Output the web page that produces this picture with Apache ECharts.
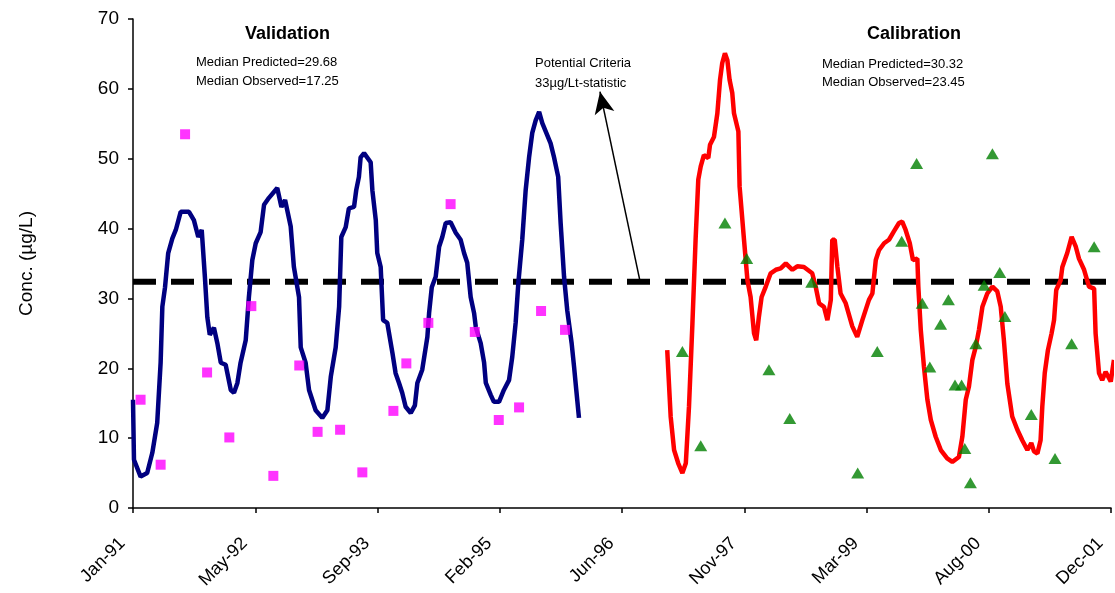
<!DOCTYPE html>
<html>
<head>
<meta charset="utf-8">
<script src="https://cdn.jsdelivr.net/npm/echarts@6/dist/echarts.min.js"></script>
<style>
html,body{margin:0;padding:0;background:#fff;}
#chart{width:1115px;height:593px;}
</style>
</head>
<body>
<div id="chart"></div>
<script>
// x values are days since 1991-01-01
const xTickDays = [0, 500, 1000, 1500, 2000, 2500, 3000, 3500, 4000];
const monthNames = ['Jan','Feb','Mar','Apr','May','Jun','Jul','Aug','Sep','Oct','Nov','Dec'];

const validationPredicted = [
  [0,15.5],[4,6.9],[31,4.5],[58,5.0],[79,7.9],[99,12.2],[113,20.8],[120,28.8],[131,31.6],[144,36.5],
  [161,38.6],[175,39.8],[195,42.4],[229,42.4],[249,41.2],[267,38.8],[281,39.8],[294,33.1],[304,27.3],
  [314,24.8],[331,25.8],[345,23.6],[359,20.8],[379,20.5],[400,16.9],[413,16.5],[427,17.9],[440,20.8],
  [461,24.0],[474,30.2],[488,35.5],[502,37.9],[522,39.5],[536,43.4],[556,44.4],[590,45.8],[607,43.1],
  [622,44.1],[645,40.3],[658,34.5],[679,30.2],[686,23.0],[706,20.8],[720,16.9],[747,14.0],[774,12.9],
  [795,14.0],[809,18.8],[829,23.0],[843,28.8],[852,38.8],[870,40.2],[883,42.9],[904,43.1],[913,45.5],
  [924,47.4],[931,50.2],[945,50.8],[972,49.5],[979,45.5],[993,41.2],[999,36.5],[1013,34.5],[1023,26.9],
  [1040,26.5],[1061,22.2],[1074,19.3],[1088,17.9],[1101,16.5],[1115,14.5],[1136,13.6],[1153,14.7],
  [1163,17.9],[1183,19.8],[1204,24.5],[1211,27.9],[1222,31.6],[1238,33.1],[1252,37.4],[1265,38.8],
  [1279,40.8],[1299,40.9],[1320,39.4],[1340,38.4],[1354,36.5],[1367,35.1],[1381,30.2],[1395,27.9],
  [1402,25.9],[1422,23.6],[1436,20.8],[1443,17.9],[1463,16.2],[1476,15.2],[1497,15.2],[1517,16.9],
  [1538,18.3],[1551,21.6],[1565,26.5],[1576,32.2],[1592,38.4],[1606,45.5],[1620,50.2],[1633,53.7],
  [1647,55.5],[1661,56.7],[1674,55.1],[1708,52.2],[1722,50.2],[1739,47.4],[1749,40.8],[1763,33.1],
  [1776,28.3],[1794,23.6],[1804,20.2],[1813,16.9],[1824,12.9]
];

const validationObserved = [
  [31,15.5],[113,6.2],[213,53.5],[303,19.4],[394,10.1],[484,28.9],[574,4.6],[680,20.4],[755,10.9],
  [847,11.2],[938,5.1],[1065,13.9],[1118,20.7],[1208,26.5],[1299,43.5],[1398,25.2],[1496,12.6],
  [1579,14.4],[1669,28.2],[1767,25.5]
];

const calibrationPredicted = [
  [2185,22.6],[2199,13.1],[2213,8.3],[2230,6.4],[2247,5.0],[2261,6.4],[2274,14.5],[2288,26.4],
  [2301,38.4],[2312,47.0],[2322,48.9],[2335,50.5],[2353,50.1],[2360,52.0],[2376,53.1],[2390,56.5],
  [2401,61.3],[2410,63.7],[2421,65.1],[2431,64.1],[2440,61.3],[2451,59.4],[2458,56.5],[2476,53.9],
  [2481,46.0],[2499,38.4],[2513,32.6],[2526,30.2],[2540,25.0],[2549,24.0],[2560,27.4],[2571,30.2],
  [2588,31.7],[2608,33.6],[2629,34.1],[2649,34.3],[2670,35.0],[2697,34.1],[2717,34.6],[2744,34.5],
  [2778,33.6],[2792,31.7],[2806,29.3],[2826,28.8],[2840,26.9],[2854,29.8],[2860,38.4],[2870,38.4],
  [2881,34.5],[2894,30.7],[2915,29.3],[2942,26.0],[2962,24.5],[2983,26.9],[3010,29.8],[3024,30.7],
  [3038,35.5],[3051,36.9],[3072,37.9],[3092,38.4],[3112,39.6],[3133,40.8],[3146,41.0],[3160,39.8],
  [3177,37.9],[3190,35.5],[3208,35.7],[3212,31.7],[3222,25.5],[3235,20.2],[3249,15.5],[3263,12.6],
  [3283,10.2],[3304,8.3],[3330,7.1],[3351,6.6],[3378,7.3],[3392,10.2],[3406,15.5],[3419,17.4],
  [3433,21.2],[3447,23.1],[3460,25.5],[3474,28.8],[3494,30.7],[3515,31.7],[3535,31.0],[3549,28.8],
  [3562,24.0],[3576,17.8],[3596,13.1],[3617,11.2],[3637,9.7],[3658,8.3],[3674,9.3],[3685,8.1],
  [3699,7.8],[3712,9.7],[3719,14.5],[3729,19.3],[3742,22.6],[3757,25.0],[3767,26.9],[3776,31.2],
  [3794,32.6],[3801,34.5],[3821,36.5],[3839,38.8],[3856,37.4],[3869,35.7],[3890,34.1],[3910,31.7],
  [3931,31.4],[3937,25.0],[3951,19.3],[3964,18.3],[3978,19.5],[3999,18.1],[4012,21.2]
];

const calibrationObserved = [
  [2247,22.4],[2322,8.9],[2421,40.8],[2510,35.7],[2601,19.8],[2686,12.8],[2776,32.3],[2964,5.0],
  [3044,22.4],[3144,38.2],[3205,49.3],[3228,29.3],[3259,20.2],[3303,26.3],[3335,29.8],[3362,17.6],
  [3389,17.6],[3402,8.5],[3425,3.6],[3447,23.5],[3481,31.9],[3515,50.7],[3545,33.7],[3566,27.4],
  [3674,13.4],[3771,7.1],[3839,23.5],[3931,37.4]
];

const criteriaLevel = 32.4;
const criteriaSpan = [0, 4000];
const arrowStart = [2074, 32.4];
const arrowEnd = [1910, 59.6];

function dayLabel(d) {
  if (d % 500 !== 0) return '';
  const dt = new Date(Date.UTC(1991, 0, 1) + d * 86400000);
  const yy = String(dt.getUTCFullYear() % 100).padStart(2, '0');
  return monthNames[dt.getUTCMonth()] + '-' + yy;
}

const chart = echarts.init(document.getElementById('chart'), null, {renderer: 'canvas'});
const FONT = 'Liberation Sans, Arial, sans-serif';

chart.setOption({
  animation: false,
  backgroundColor: '#ffffff',
  grid: {left: 133, right: 4, top: 19, bottom: 85, containLabel: false},
  xAxis: {
    type: 'value',
    min: xTickDays[0],
    max: xTickDays[xTickDays.length - 1],
    interval: 500,
    splitLine: {show: false},
    axisLine: {show: true, onZero: false, lineStyle: {color: '#000', width: 1.5}},
    axisTick: {show: true, length: 5, lineStyle: {color: '#000', width: 1.5}},
    axisLabel: {
      rotate: 45, margin: 22, color: '#000', fontSize: 18, fontFamily: FONT,
      padding: [0, 15, 0, 0],
      formatter: dayLabel
    }
  },
  yAxis: {
    type: 'value',
    min: 0, max: 70, interval: 10,
    name: 'Conc. (µg/L)',
    nameLocation: 'middle',
    nameRotate: 90,
    nameGap: 97,
    nameTextStyle: {color: '#000', fontSize: 19, fontFamily: FONT, padding: [0, 0, 0, 0]},
    splitLine: {show: false},
    axisLine: {show: true, lineStyle: {color: '#000', width: 1.5}},
    axisTick: {show: true, length: 5, lineStyle: {color: '#000', width: 1.5}},
    axisLabel: {color: '#000', fontSize: 19, fontFamily: FONT, margin: 14}
  },
  series: [
    {
      name: 'criteria', type: 'line', z: 1,
      data: [[criteriaSpan[0], criteriaLevel], [criteriaSpan[1], criteriaLevel]],
      showSymbol: false, symbol: 'none', silent: true,
      lineStyle: {color: '#000', width: 6, type: [23, 15]},
      markLine: {
        silent: true,
        symbol: ['none', 'arrow'],
        symbolSize: [15, 22],
        label: {show: false},
        lineStyle: {color: '#000', width: 1.5, type: 'solid'},
        data: [[{coord: arrowStart}, {coord: arrowEnd}]]
      }
    },
    {
      name: 'Validation predicted', type: 'line', z: 3,
      data: validationPredicted, showSymbol: false, symbol: 'none',
      lineStyle: {color: '#000080', width: 4.5}
    },
    {
      name: 'Validation observed', type: 'scatter', z: 4,
      data: validationObserved, symbol: 'rect', symbolSize: 10,
      itemStyle: {color: '#ff00ff'}
    },
    {
      name: 'Calibration predicted', type: 'line', z: 3,
      data: calibrationPredicted, showSymbol: false, symbol: 'none',
      lineStyle: {color: '#ff0000', width: 4.5}
    },
    {
      name: 'Calibration observed', type: 'scatter', z: 4,
      data: calibrationObserved, symbol: 'triangle', symbolSize: [13, 11],
      itemStyle: {color: '#008000'}
    }
  ],
  graphic: [
    {type: 'text', left: 245, top: 25, style: {text: 'Validation', font: 'bold 18px ' + FONT, fill: '#000'}},
    {type: 'text', left: 196, top: 56, style: {text: 'Median Predicted=29.68', font: '13px ' + FONT, fill: '#000'}},
    {type: 'text', left: 196, top: 75, style: {text: 'Median Observed=17.25', font: '13px ' + FONT, fill: '#000'}},
    {type: 'text', left: 867, top: 25, style: {text: 'Calibration', font: 'bold 18px ' + FONT, fill: '#000'}},
    {type: 'text', left: 822, top: 58, style: {text: 'Median Predicted=30.32', font: '13px ' + FONT, fill: '#000'}},
    {type: 'text', left: 822, top: 76, style: {text: 'Median Observed=23.45', font: '13px ' + FONT, fill: '#000'}},
    {type: 'text', left: 535, top: 57, style: {text: 'Potential Criteria', font: '13px ' + FONT, fill: '#000'}},
    {type: 'text', left: 535, top: 77, style: {text: '33µg/Lt-statistic', font: '13px ' + FONT, fill: '#000'}}
  ]
});
</script>
</body>
</html>
